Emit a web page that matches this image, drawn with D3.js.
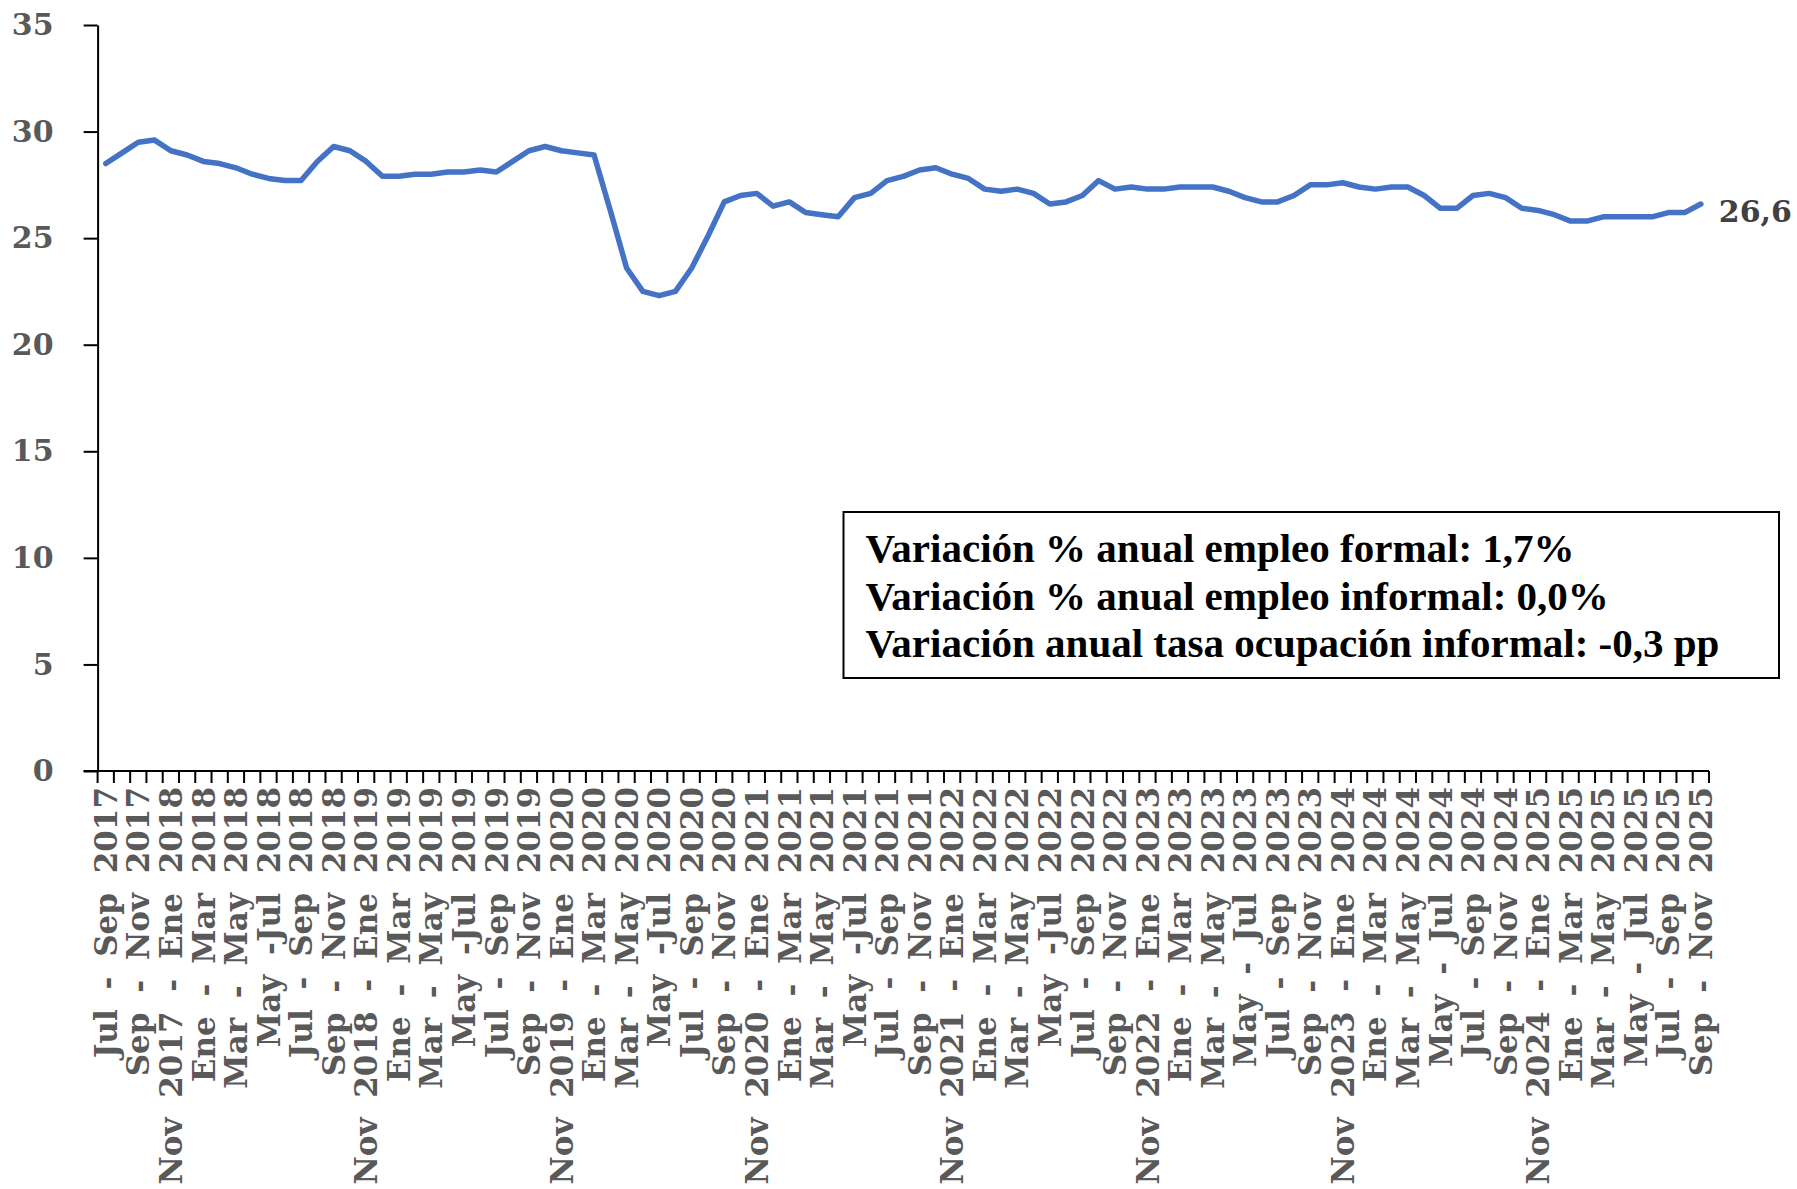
<!DOCTYPE html>
<html>
<head>
<meta charset="utf-8">
<script src="https://cdn.jsdelivr.net/npm/d3@7"></script>
<style>
  body { margin: 0; background: #fff; }
  svg { display: block; }
</style>
</head>
<body>
<svg class="canvas" width="1797" height="1189"></svg>
<script>
// trimestres moviles, jul-sep 2017 a sep-nov 2025
var categories = [
  "Jul - Sep 2017", "Ago - Oct 2017", "Sep - Nov 2017", "Oct - Dic 2017", "Nov 2017 - Ene 2018", "Dic 2017 - Feb 2018",
  "Ene - Mar 2018", "Feb - Abr 2018", "Mar - May 2018", "Abr - Jun 2018", "May -Jul 2018", "Jun - Ago 2018",
  "Jul - Sep 2018", "Ago - Oct 2018", "Sep - Nov 2018", "Oct - Dic 2018", "Nov 2018 - Ene 2019", "Dic 2018 - Feb 2019",
  "Ene - Mar 2019", "Feb - Abr 2019", "Mar - May 2019", "Abr - Jun 2019", "May -Jul 2019", "Jun - Ago 2019",
  "Jul - Sep 2019", "Ago - Oct 2019", "Sep - Nov 2019", "Oct - Dic 2019", "Nov 2019 - Ene 2020", "Dic 2019 - Feb 2020",
  "Ene - Mar 2020", "Feb - Abr 2020", "Mar - May 2020", "Abr - Jun 2020", "May -Jul 2020", "Jun - Ago 2020",
  "Jul - Sep 2020", "Ago - Oct 2020", "Sep - Nov 2020", "Oct - Dic 2020", "Nov 2020 - Ene 2021", "Dic 2020 - Feb 2021",
  "Ene - Mar 2021", "Feb - Abr 2021", "Mar - May 2021", "Abr - Jun 2021", "May -Jul 2021", "Jun - Ago 2021",
  "Jul - Sep 2021", "Ago - Oct 2021", "Sep - Nov 2021", "Oct - Dic 2021", "Nov 2021 - Ene 2022", "Dic 2021 - Feb 2022",
  "Ene - Mar 2022", "Feb - Abr 2022", "Mar - May 2022", "Abr - Jun 2022", "May -Jul 2022", "Jun - Ago 2022",
  "Jul - Sep 2022", "Ago - Oct 2022", "Sep - Nov 2022", "Oct - Dic 2022", "Nov 2022 - Ene 2023", "Dic 2022 - Feb 2023",
  "Ene - Mar 2023", "Feb - Abr 2023", "Mar - May 2023", "Abr - Jun 2023", "May - Jul 2023", "Jun - Ago 2023",
  "Jul - Sep 2023", "Ago - Oct 2023", "Sep - Nov 2023", "Oct - Dic 2023", "Nov 2023 - Ene 2024", "Dic 2023 - Feb 2024",
  "Ene - Mar 2024", "Feb - Abr 2024", "Mar - May 2024", "Abr - Jun 2024", "May - Jul 2024", "Jun - Ago 2024",
  "Jul - Sep 2024", "Ago - Oct 2024", "Sep - Nov 2024", "Oct - Dic 2024", "Nov 2024 - Ene 2025", "Dic 2024 - Feb 2025",
  "Ene - Mar 2025", "Feb - Abr 2025", "Mar - May 2025", "Abr - Jun 2025", "May - Jul 2025", "Jun - Ago 2025",
  "Jul - Sep 2025", "Ago - Oct 2025", "Sep - Nov 2025"
];

// tasa (%)
var values = [
  28.5, 29.0, 29.5, 29.6, 29.1, 28.9, 28.6, 28.5, 28.3, 28.0,
  27.8, 27.7, 27.7, 28.6, 29.3, 29.1, 28.6, 27.9, 27.9, 28.0,
  28.0, 28.1, 28.1, 28.2, 28.1, 28.6, 29.1, 29.3, 29.1, 29.0,
  28.9, 26.3, 23.6, 22.5, 22.3, 22.5, 23.6, 25.1, 26.7, 27.0,
  27.1, 26.5, 26.7, 26.2, 26.1, 26.0, 26.9, 27.1, 27.7, 27.9,
  28.2, 28.3, 28.0, 27.8, 27.3, 27.2, 27.3, 27.1, 26.6, 26.7,
  27.0, 27.7, 27.3, 27.4, 27.3, 27.3, 27.4, 27.4, 27.4, 27.2,
  26.9, 26.7, 26.7, 27.0, 27.5, 27.5, 27.6, 27.4, 27.3, 27.4,
  27.4, 27.0, 26.4, 26.4, 27.0, 27.1, 26.9, 26.4, 26.3, 26.1,
  25.8, 25.8, 26.0, 26.0, 26.0, 26.0, 26.2, 26.2, 26.6
];

var yTicks = [0, 5, 10, 15, 20, 25, 30, 35];

var lastLabel = "26,6";

var boxLines = [
  "Variación % anual empleo formal: 1,7%",
  "Variación % anual empleo informal: 0,0%",
  "Variación anual tasa ocupación informal: -0,3 pp"
];

var plotLeft = 97.6, plotRight = 1709, plotTop = 25, plotBottom = 771;
var axisFont = "'DejaVu Serif', serif";

var svg = d3.select('.canvas');

var x = d3.scaleBand()
    .domain(categories)
    .range([plotLeft, plotRight])
    .paddingInner(0)
    .paddingOuter(0);

var y = d3.scaleLinear()
    .domain([0, 35])
    .range([plotBottom, plotTop]);

function cx(c) { return x(c) + x.bandwidth() / 2; }

// eje y
var yAxis = svg.append("g")
    .attr("transform", "translate(" + plotLeft + ",0)")
    .call(d3.axisLeft(y).tickValues(yTicks).tickSize(14).tickSizeOuter(0).tickPadding(30));

yAxis.select(".domain").attr("stroke", "#000").attr("stroke-width", 2);
yAxis.selectAll(".tick line").attr("stroke", "#000").attr("stroke-width", 2);
yAxis.selectAll(".tick text")
    .style("font-family", axisFont)
    .style("font-weight", "bold")
    .style("font-size", "30px")
    .attr("fill", "#595959");

// eje x
svg.append("line")
    .attr("x1", plotLeft - 14).attr("x2", plotRight)
    .attr("y1", plotBottom).attr("y2", plotBottom)
    .attr("stroke", "#000")
    .attr("stroke-width", 2);

var bounds = categories.map(function(c) { return x(c); }).concat([plotRight]);

svg.selectAll(".xtick")
    .data(bounds)
    .enter()
    .append("line")
        .attr("class", "xtick")
        .attr("x1", function(d) { return d; })
        .attr("x2", function(d) { return d; })
        .attr("y1", plotBottom)
        .attr("y2", plotBottom + 12)
        .attr("stroke", "#000")
        .attr("stroke-width", 2);

var tickLabels = categories.filter(function(c, i) { return i % 2 === 0; });

svg.selectAll(".xlabel")
    .data(tickLabels)
    .enter()
    .append("text")
        .attr("class", "xlabel")
        .attr("transform", function(d) { return "translate(" + cx(d) + "," + (plotBottom + 16) + ") rotate(-90)"; })
        .attr("dy", "0.36em")
        .attr("text-anchor", "end")
        .style("font-family", axisFont)
        .style("font-weight", "bold")
        .style("font-size", "31px")
        .style("word-spacing", "9px")
        .attr("fill", "#595959")
        .text(function(d) { return d; });

// serie
var line = d3.line()
    .x(function(d, i) { return cx(categories[i]); })
    .y(function(d) { return y(d); });

svg.append("path")
    .datum(values)
    .attr("d", line)
    .attr("fill", "none")
    .attr("stroke", "#4472C4")
    .attr("stroke-width", 5.5)
    .attr("stroke-linejoin", "round")
    .attr("stroke-linecap", "round");

var lastCat = categories[categories.length - 1];
svg.append("text")
    .attr("x", cx(lastCat) + 18)
    .attr("y", y(values[values.length - 1]) + 7)
    .attr("dy", "0.36em")
    .style("font-family", axisFont)
    .style("font-weight", "bold")
    .style("font-size", "30px")
    .attr("fill", "#404040")
    .text(lastLabel);

// recuadro
var box = svg.append("g").attr("transform", "translate(843.5,512)");

box.append("rect")
    .attr("width", 935.5)
    .attr("height", 166)
    .attr("fill", "#fff")
    .attr("stroke", "#000")
    .attr("stroke-width", 2);

box.selectAll("text")
    .data(boxLines)
    .enter()
    .append("text")
        .attr("x", 22)
        .attr("y", function(d, i) { return 50 + i * 47.5; })
        .style("font-family", "'Liberation Serif', 'Times New Roman', serif")
        .style("font-weight", "bold")
        .style("font-size", "41px")
        .attr("fill", "#000")
        .text(function(d) { return d; });
</script>
</body>
</html>
